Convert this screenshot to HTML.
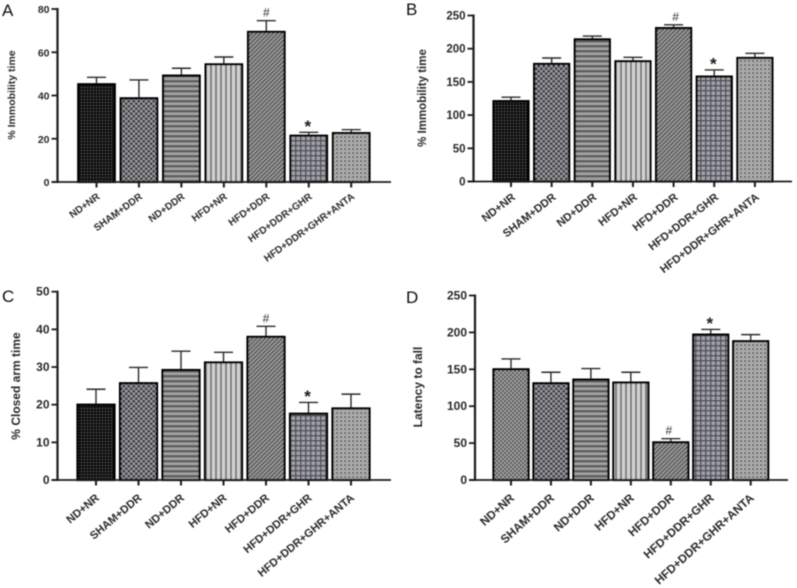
<!DOCTYPE html>
<html lang="en">
<head>
<meta charset="utf-8">
<title>Behavioral test bar charts</title>
<style>
html,body{margin:0;padding:0;background:#fff;width:797px;height:588px;overflow:hidden}
svg{display:block}
text{font-family:"Liberation Sans",sans-serif}
</style>
</head>
<body>
<svg id="figure" width="797" height="588" viewBox="0 0 797 588" xmlns="http://www.w3.org/2000/svg">
  <defs>
    <filter id="soft" x="-5%" y="-5%" width="110%" height="110%"><feGaussianBlur stdDeviation="0.5"/></filter>
    <pattern id="p0" width="3" height="3" patternUnits="userSpaceOnUse"><rect width="3" height="3" fill="#0e0e0e"/><rect width="1" height="1" fill="#5a5a5a"/></pattern>
    <pattern id="p1" width="5" height="5" patternUnits="userSpaceOnUse"><rect width="5" height="5" fill="#36363a"/><rect width="2.5" height="2.5" fill="#98989c"/><rect x="2.5" y="2.5" width="2.5" height="2.5" fill="#98989c"/></pattern>
    <pattern id="p2" width="5" height="5" patternUnits="userSpaceOnUse"><rect width="5" height="5" fill="#a2a2a2"/><rect width="5" height="2.5" fill="#5e5e5e"/></pattern>
    <pattern id="p3" width="5" height="5" patternUnits="userSpaceOnUse"><rect width="5" height="5" fill="#d2d2d2"/><rect width="2" height="5" fill="#7c7c7c"/></pattern>
    <pattern id="p4" width="3" height="3" patternUnits="userSpaceOnUse" patternTransform="rotate(-45)"><rect width="3" height="3" fill="#a0a0a0"/><rect width="3" height="1.6" fill="#585858"/></pattern>
    <pattern id="p5" width="5" height="5" patternUnits="userSpaceOnUse"><rect width="5" height="5" fill="#a0a0a8"/><rect width="1.5" height="5" fill="#50505a"/><rect width="5" height="1.5" fill="#50505a"/></pattern>
    <pattern id="p6" width="4" height="4" patternUnits="userSpaceOnUse"><rect width="4" height="4" fill="#b0b0b0"/><rect width="2" height="2" fill="#666"/><rect x="2" y="2" width="1" height="1" fill="#7a7a7a"/></pattern>
    <pattern id="p7" width="4" height="4" patternUnits="userSpaceOnUse"><rect width="4" height="4" fill="#a0a0a0"/><rect width="2" height="2" fill="#5a5a5a"/><rect x="2" y="2" width="2" height="2" fill="#5a5a5a"/></pattern>
  </defs>
  <g id="plots" filter="url(#soft)"></g>
</svg>
<script>
var categories = ["ND+NR","SHAM+DDR","ND+DDR","HFD+NR","HFD+DDR","HFD+DDR+GHR","HFD+DDR+GHR+ANTA"];

var valuesA = [45.2,38.7,49.2,54.4,69.4,21.4,22.6];
var errorTopsA = [48.4,47.2,52.6,57.8,74.6,23,24.2];
var ticksA = [0,20,40,60,80];

var valuesB = [121,177,214,181,231,158,186];
var errorTopsB = [127,186,219,187,236,168,193];
var ticksB = [0,50,100,150,200,250];

var valuesC = [20,25.7,29.2,31.2,38,17.6,19];
var errorTopsC = [24.1,29.9,34.2,33.9,40.8,20.6,22.8];
var ticksC = [0,10,20,30,40,50];

var valuesD = [150,131,136,132,51,197,188];
var errorTopsD = [164,146,151,146,56,204,197];
var ticksD = [0,50,100,150,200,250];

var NS = "http://www.w3.org/2000/svg";
var root = document.getElementById("plots");

function make(parent, tag, attrs, txt) {
  var el = document.createElementNS(NS, tag);
  for (var k in attrs) { el.setAttribute(k, attrs[k]); }
  if (txt !== undefined) { el.textContent = txt; }
  parent.appendChild(el);
  return el;
}

function drawPanel(p) {
  var yMax = p.ticks[p.ticks.length - 1];
  function yScale(v) { return p.y0 - (v / yMax) * (p.y0 - p.yTop); }
  function xScale(i) { return p.x0 + i * p.step; }

  var g = make(root, "g", {});
  
  

  var letter = make(g, "text", {x: p.letterX, y: p.letterY, "font-size": 17, fill: "#111"}, p.id.toUpperCase());
  
  

  var title = make(g, "text", {
    transform: "translate(" + p.titleX + "," + p.titleY + ") rotate(-90)",
    "text-anchor": "middle", "font-size": p.titleSize, "font-weight": "bold", fill: "#2a2a2a"
  }, p.title);
  
  

  p.values.forEach(function (v, i) {
    var cx = xScale(i);
    var err = make(g, "path", {
      d: "M" + cx + " " + yScale(v) + "V" + yScale(p.errors[i]) + "M" + (cx - 9.5) + " " + yScale(p.errors[i]) + "H" + (cx + 9.5),
      stroke: "#2b2b2b", "stroke-width": 1.4, fill: "none"
    });
    
    

    var patternId = (p.id === "d" && i === 0) ? "p7" : "p" + i;
    var bar = make(g, "rect", {
      x: cx - p.barW / 2, y: yScale(v), width: p.barW, height: p.y0 - yScale(v),
      fill: "url(#" + patternId + ")", stroke: "#050505", "stroke-width": 2.2
    });
    
    

    var tick = make(g, "line", {x1: cx, x2: cx, y1: p.y0, y2: p.y0 + 5.5, stroke: "#1a1a1a", "stroke-width": 2});
    
    

    var lx = cx + p.labelDx, ly = p.y0 + p.labelDy;
    var label = make(g, "text", {
      transform: "translate(" + lx + "," + ly + ") rotate(" + (-p.labelAngle) + ")",
      "text-anchor": "end", "font-size": p.labelSize, "font-weight": "bold", fill: "#2a2a2a"
    }, categories[i]);
    
    
  });

  p.ticks.forEach(function (t) {
    var yt = yScale(t);
    var tick = make(g, "line", {x1: p.axisX - 6, x2: p.axisX, y1: yt, y2: yt, stroke: "#1a1a1a", "stroke-width": 1.8});
    
    
    var label = make(g, "text", {
      x: p.axisX - 8, y: yt + 4, "text-anchor": "end",
      "font-size": p.tickSize, "font-weight": "bold", fill: "#2a2a2a"
    }, t);
    
    
  });

  var yAxis = make(g, "line", {x1: p.axisX, x2: p.axisX, y1: yScale(yMax) - 1, y2: p.y0 + 1, stroke: "#1a1a1a", "stroke-width": 2.2});
  
  
  var xAxis = make(g, "line", {x1: p.axisX - 6, x2: p.axisEnd, y1: p.y0, y2: p.y0, stroke: "#1a1a1a", "stroke-width": 1.8});
  
  

  var hash = make(g, "text", {x: xScale(4) + p.hashDx, y: yScale(p.errors[4]) - 4, "text-anchor": "middle", "font-size": 12, fill: "#333"}, "#");
  
  
  var starIndex = 5;
  var star = make(g, "text", {x: xScale(starIndex) - 1, y: yScale(p.errors[starIndex]) - 0.5, "text-anchor": "middle", "font-size": 17, "font-weight": "bold", fill: "#1a1a1a"}, "*");
  
  
}

drawPanel({id:"a", values:valuesA, errors:errorTopsA, ticks:ticksA, title:"% Immobility time",
  x0:96.5, step:42.45, barW:36.5, axisX:57.5, axisEnd:391, yTop:9, y0:182,
  letterX:2, letterY:16, titleX:15, titleY:95, titleSize:10.5, tickSize:10.5,
  labelDx:4, labelDy:16, labelSize:10, labelAngle:36, hashDx:0});
drawPanel({id:"b", values:valuesB, errors:errorTopsB, ticks:ticksB, title:"% Immobility time",
  x0:511, step:40.65, barW:35, axisX:473.5, axisEnd:792, yTop:15.5, y0:181.5,
  letterX:406, letterY:15, titleX:426, titleY:98, titleSize:11.5, tickSize:11.5,
  labelDx:5, labelDy:17, labelSize:11.2, labelAngle:38, hashDx:2});
drawPanel({id:"c", values:valuesC, errors:errorTopsC, ticks:ticksC, title:"% Closed arm time",
  x0:96, step:42.5, barW:37, axisX:57.5, axisEnd:391, yTop:291.7, y0:480,
  letterX:2, letterY:302, titleX:20, titleY:386, titleSize:12, tickSize:12,
  labelDx:4, labelDy:19, labelSize:11.2, labelAngle:40, hashDx:0});
drawPanel({id:"d", values:valuesD, errors:errorTopsD, ticks:ticksD, title:"Latency to fall",
  x0:511, step:39.95, barW:35, axisX:475, axisEnd:788, yTop:295.5, y0:480,
  letterX:406, letterY:303, titleX:422, titleY:387, titleSize:12, tickSize:12,
  labelDx:4, labelDy:19, labelSize:11.8, labelAngle:42, hashDx:-2});
</script>
</body>
</html>
